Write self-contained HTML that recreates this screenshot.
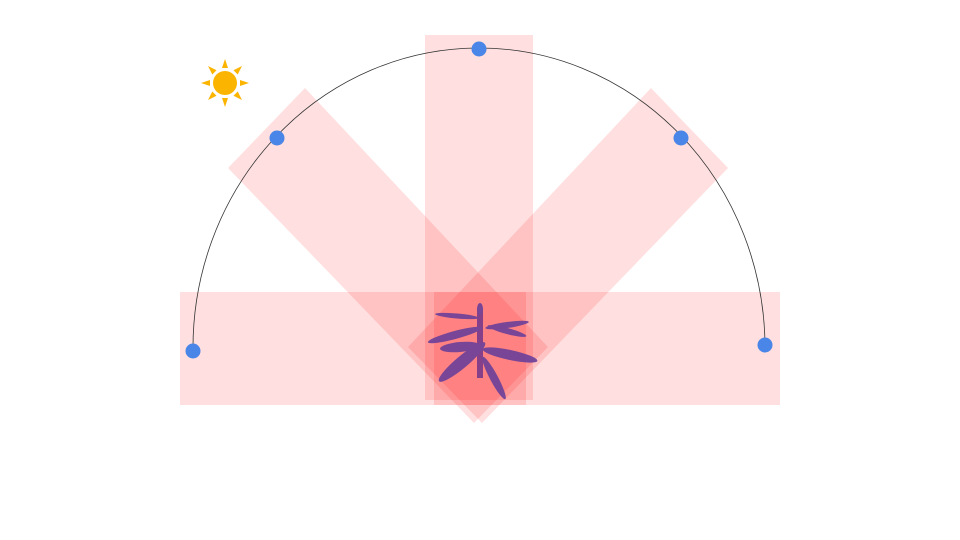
<!DOCTYPE html>
<html><head><meta charset="utf-8"><style>html,body{margin:0;padding:0;background:#fff;width:960px;height:540px;overflow:hidden}</style></head>
<body>
<svg width="960" height="540" viewBox="0 0 960 540">
<g fill="rgb(255,0,0)" fill-opacity="0.125">
<rect x="180" y="292" width="600" height="113"/>
<rect x="425" y="35" width="108" height="365"/>
<rect x="434" y="292" width="92" height="113"/>
<polygon points="228,168 305,88 548,347 474,423"/>
<polygon points="728,168 651,88 408,347 482,423"/>
</g>
<path d="M193,351 A286,300 0 0 1 765,345" fill="none" stroke="#333" stroke-width="0.8"/>
<g fill="#4a86e8">
<circle cx="193" cy="351" r="7.5"/>
<circle cx="277" cy="138" r="7.5"/>
<circle cx="479" cy="49" r="7.5"/>
<circle cx="681" cy="138" r="7.5"/>
<circle cx="765" cy="345" r="7.5"/>
</g>
<g fill="#fbb400" transform="translate(225,83)">
<circle r="12"/>
<g>
<polygon points="-3,-15 3,-15 0,-24"/>
<polygon points="-3,-15 3,-15 0,-24" transform="rotate(45)"/>
<polygon points="-3,-15 3,-15 0,-24" transform="rotate(90)"/>
<polygon points="-3,-15 3,-15 0,-24" transform="rotate(135)"/>
<polygon points="-3,-15 3,-15 0,-24" transform="rotate(180)"/>
<polygon points="-3,-15 3,-15 0,-24" transform="rotate(225)"/>
<polygon points="-3,-15 3,-15 0,-24" transform="rotate(270)"/>
<polygon points="-3,-15 3,-15 0,-24" transform="rotate(315)"/>
</g>
</g>
<g fill="#6a3f9a" opacity="0.9">
<rect x="477" y="308" width="6" height="70" fill="#7a3a8a"/>
<ellipse cx="480" cy="309" rx="3" ry="6"/>
<ellipse cx="457" cy="316" rx="22" ry="2.5" transform="rotate(5 457 316)"/>
<ellipse cx="507" cy="325" rx="22" ry="3" transform="rotate(-8 507 325)"/>
<ellipse cx="507" cy="331" rx="20" ry="3" transform="rotate(15 507 331)"/>
<ellipse cx="455" cy="335" rx="28" ry="4" transform="rotate(-15 455 335)"/>
<ellipse cx="460" cy="347" rx="20" ry="5" transform="rotate(-5 460 347)"/>
<ellipse cx="510" cy="355" rx="28" ry="5" transform="rotate(12 510 355)"/>
<ellipse cx="462" cy="362" rx="30" ry="6" transform="rotate(-40 462 362)"/>
<ellipse cx="494" cy="378" rx="24" ry="4" transform="rotate(62 494 378)"/>
</g>
</svg>
</body></html>
